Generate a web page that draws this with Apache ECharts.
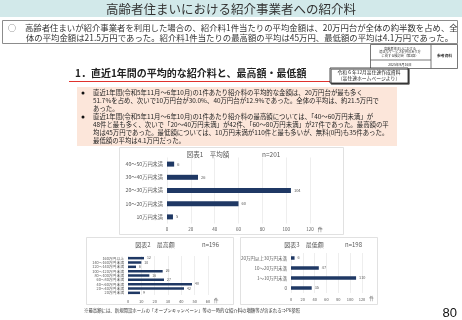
<!DOCTYPE html>
<html>
<head>
<meta charset="utf-8">
<script src="https://cdn.jsdelivr.net/npm/echarts@6/dist/echarts.min.js"></script>
<style>
  html, body { margin: 0; padding: 0; background: #fff; }
  #main { width: 462px; height: 320px; }
</style>
</head>
<body>
<div id="main"></div>
<script>
// 図表1 平均額
const avgCats = ['40～50万円未満', '30～40万円未満', '20～30万円未満', '10～20万円未満', '10万円未満'];
const avgVals = [6, 26, 104, 60, 5];
const avgTicks = [0, 120, 20];

// 図表2 最高額
const maxCats = ['160万円以上', '140～160万円未満', '120～140万円未満', '100～120万円未満', '80～100万円未満',
  '60～80万円未満', '40～60万円未満', '20～40万円未満', '20万円未満'];
const maxVals = [12, 10, 6, 26, 16, 27, 48, 42, 9];
const maxTicks = [0, 60, 10];

// 図表3 最低額
const minCats = ['20万円以上30万円未満', '10～20万円未満', '1～10万円未満', '0'];
const minVals = [6, 47, 110, 35];
const minTicks = [0, 120, 20];

const FONT = '"Noto Sans CJK JP", sans-serif';
const NAVY = '#1f3864';
const GREY = '#595959';

const bullet1 = [
  '直近1年間(令和5年11月～6年10月)の1件あたり紹介料の平均的な金額は、20万円台が最も多く',
  '51.7%を占め、次いで10万円台が30.0%、40万円台が12.9%であった。全体の平均は、約21.5万円で',
  'あった。'
];
const bullet2 = [
  '直近1年間(令和5年11月～6年10月)の1件あたり紹介料の最高額については、「40～60万円未満」が',
  '48件と最も多く、次いで「20～40万円未満」が42件、「60～80万円未満」が27件であった。最高額の平',
  '均は45万円であった。最低額については、10万円未満が110件と最も多いが、無料(0円)も35件あった。',
  '最低額の平均は4.1万円だった。'
];

function txt(x, y, text, size, opts) {
  return {
    type: 'text', x: x, y: y, silent: true,
    style: Object.assign({
      text: text, fontSize: size, fontFamily: FONT, fill: '#333',
      verticalAlign: 'middle', textAlign: 'left'
    }, opts || {})
  };
}
function rect(x, y, w, h, style) {
  return { type: 'rect', silent: true, shape: { x: x, y: y, width: w, height: h }, style: style };
}
function line(x1, y1, x2, y2, stroke, lw) {
  return { type: 'line', silent: true, shape: { x1: x1, y1: y1, x2: x2, y2: y2 }, style: { stroke: stroke, lineWidth: lw } };
}

const graphics = [
  rect(0, 0, 462, 17, { fill: '#d2e9ea' }),
  txt(231, 9, '高齢者住まいにおける紹介事業者への紹介料', 12.5, { textAlign: 'center', fill: '#333' }),
  rect(2.5, 20.5, 455, 23, { fill: '#fff', stroke: '#8c8c8c', lineWidth: 1 }),
  txt(8, 27.5, '○', 8, { fill: '#444' }),
  txt(25, 27.5, '高齢者住まいが紹介事業者を利用した場合の、紹介料1件当たりの平均金額は、20万円台が全体の約半数を占め、全', 8.4),
  txt(26, 38, '体の平均金額は21.5万円であった。紹介料1件当たりの最高額の平均は45万円、最低額の平均は4.1万円であった。', 8.4),
  // reference box top right
  rect(370.5, 44.5, 87, 24, { fill: '#fff', stroke: '#555', lineWidth: 0.8 }),
  line(431, 44.5, 431, 68.5, '#555', 0.8),
  line(370.5, 60, 431, 60, '#555', 0.8),
  txt(400, 48.5, '高齢者住まいにおける', 3.2, { textAlign: 'center' }),
  txt(400, 52.2, '適正なサービス提供のあり方', 3.2, { textAlign: 'center' }),
  txt(400, 56, 'に関する検討会（第3回）', 3.2, { textAlign: 'center' }),
  txt(400, 64.5, '2025年9月16日', 3.4, { textAlign: 'center' }),
  txt(444.5, 56, '参考資料', 3.8, { textAlign: 'center', fontWeight: 'bold' }),
  // heading
  txt(75, 73, '1．直近1年間の平均的な紹介料と、最高額・最低額', 10, { fontWeight: 'bold', fill: '#222' }),
  line(69, 81.5, 330, 81.5, '#e0322d', 1.2),
  rect(330, 68, 78, 15, { fill: '#fff', stroke: '#222', lineWidth: 0.8, shadowColor: '#444', shadowOffsetX: 1.2, shadowOffsetY: 1.2 }),
  txt(369, 72.5, '令和６年12月高住連作成資料', 4.8, { textAlign: 'center', fill: '#222' }),
  txt(369, 78.5, '（高住連ホームページより）', 4.8, { textAlign: 'center', fill: '#222' }),
  // pink text box
  rect(77, 87, 320, 59, { fill: '#fce6da' }),
  // chart frames
  rect(119.5, 147.5, 224, 87, { fill: '#fff', stroke: '#d9d9d9', lineWidth: 0.8 }),
  rect(86.5, 237.5, 147, 67, { fill: '#fff', stroke: '#d9d9d9', lineWidth: 0.8 }),
  rect(240.5, 237.5, 137, 67, { fill: '#fff', stroke: '#d9d9d9', lineWidth: 0.8 }),
  txt(208, 155, '図表1　平均額', 6.5, { textAlign: 'center', fill: GREY }),
  txt(262, 155, 'n=201', 6.5, { fill: GREY }),
  txt(155, 244.5, '図表2　最高額', 6, { textAlign: 'center', fill: GREY }),
  txt(202, 244.5, 'n=196', 6, { fill: GREY }),
  txt(304, 244.5, '図表3　最低額', 6, { textAlign: 'center', fill: GREY }),
  txt(345, 244.5, 'n=198', 6, { fill: GREY }),
  txt(84, 310, '※最高額には、新規開設ホームの「オープンキャンペーン」等の一時的な紹介料の増額等が含まれる⇒P6参照', 4.4, { fill: '#333' }),
  txt(457, 313, '80', 13, { textAlign: 'right', fontFamily: 'Liberation Sans, Arial', fill: '#111' })
];

let yy = 93;
[bullet1, bullet2].forEach(function (lines) {
  graphics.push({ type: 'circle', silent: true, shape: { cx: 83, cy: yy, r: 1.5 }, style: { fill: '#111' } });
  lines.forEach(function (l) {
    graphics.push(txt(93, yy, l, 6.4, { fill: '#222' }));
    yy += 8;
  });
});

function xAxisFor(grid, ticks, fs) {
  return {
    type: 'value', gridIndex: grid, min: ticks[0], max: ticks[1], interval: ticks[2],
    axisLine: { show: false }, axisTick: { show: false },
    splitLine: { lineStyle: { color: '#e3e3e3', width: 0.6 } },
    axisLabel: { fontSize: fs, color: GREY, fontFamily: FONT, margin: 4 },
    name: '件', nameLocation: 'end', nameGap: 4,
    nameTextStyle: { fontSize: fs + 0.5, color: GREY, fontFamily: FONT, verticalAlign: 'top', padding: [3, 0, 0, 0] }
  };
}
function yAxisFor(grid, cats, fs) {
  return {
    type: 'category', gridIndex: grid, data: cats, inverse: true,
    axisLine: { show: false }, axisTick: { show: false },
    axisLabel: { fontSize: fs, color: GREY, fontFamily: FONT, margin: 4, interval: 0 }
  };
}
function barFor(i, vals, bw, fs) {
  return {
    type: 'bar', xAxisIndex: i, yAxisIndex: i, data: vals, barWidth: bw,
    itemStyle: { color: NAVY },
    label: { show: true, position: 'right', distance: 3, fontSize: fs, color: GREY, fontFamily: FONT },
    silent: true
  };
}

const chart = echarts.init(document.getElementById('main'), null, { renderer: 'canvas' });
chart.setOption({
  animation: false,
  backgroundColor: '#fff',
  graphic: { elements: graphics },
  grid: [
    { left: 167, top: 157.5, width: 143, height: 66, containLabel: false },
    { left: 128, top: 256, width: 80, height: 39, containLabel: false },
    { left: 291, top: 253, width: 71, height: 40, containLabel: false }
  ],
  xAxis: [xAxisFor(0, avgTicks, 4.5), xAxisFor(1, maxTicks, 4), xAxisFor(2, minTicks, 4)],
  yAxis: [yAxisFor(0, avgCats, 5.2), yAxisFor(1, maxCats, 3.8), yAxisFor(2, minCats, 4.5)],
  series: [barFor(0, avgVals, 5, 4), barFor(1, maxVals, 2.5, 3.5), barFor(2, minVals, 3.5, 3.8)]
});
</script>
</body>
</html>
